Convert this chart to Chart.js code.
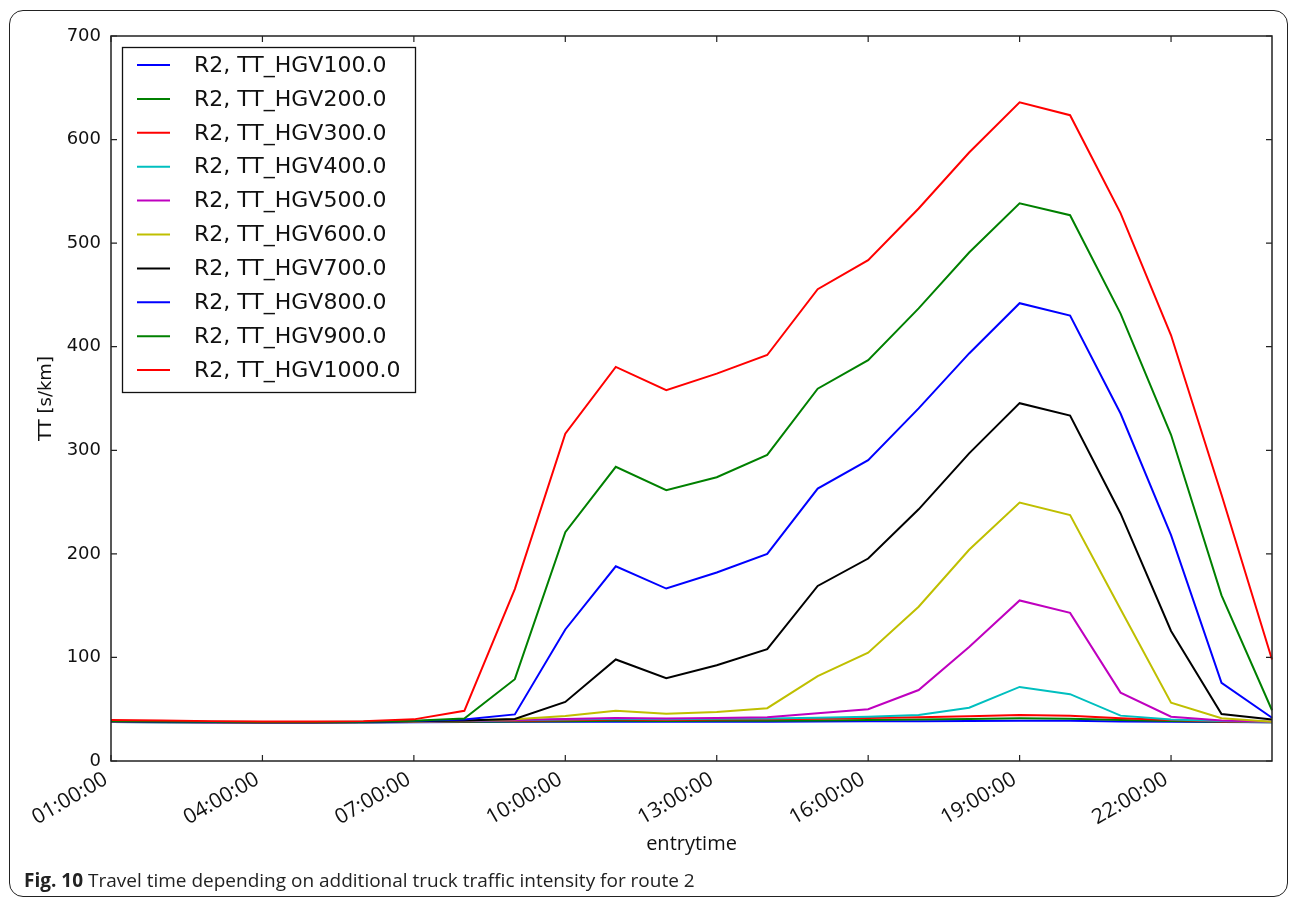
<!DOCTYPE html>
<html>
<head>
<meta charset="utf-8">
<script src="https://cdn.jsdelivr.net/npm/chart.js@4.4.0/dist/chart.umd.min.js"></script>
<style>
  html, body { margin: 0; padding: 0; background: #fff; }
  #wrap { position: relative; width: 1290px; height: 900px; overflow: hidden; }
  #frame { position: absolute; left: 9px; top: 10px; width: 1279px; height: 887px; box-sizing: border-box;
           border: 1.5px solid #222; border-radius: 14px; }
  #chart { position: absolute; left: 0; top: 0; }
  #caption { position: absolute; left: 24px; top: 867px; font-family: "Open Sans", sans-serif; font-size: 19px;
             color: #222; white-space: nowrap; }
</style>
</head>
<body>
<div id="wrap">
  <div id="frame"></div>
  <canvas id="chart" width="1290" height="900"></canvas>
  <div id="caption"><b>Fig. 10</b> Travel time depending on additional truck traffic intensity for route 2</div>
</div>
<script>
// entry times (hourly)
var hours = ['01:00:00', '02:00:00', '03:00:00', '04:00:00', '05:00:00', '06:00:00', '07:00:00', '08:00:00',
             '09:00:00', '10:00:00', '11:00:00', '12:00:00', '13:00:00', '14:00:00', '15:00:00', '16:00:00',
             '17:00:00', '18:00:00', '19:00:00', '20:00:00', '21:00:00', '22:00:00', '23:00:00', '00:00:00'];
var shownTimes = ['01:00:00', '04:00:00', '07:00:00', '10:00:00', '13:00:00', '16:00:00', '19:00:00', '22:00:00'];
var yTicks = [0, 100, 200, 300, 400, 500, 600, 700];

var seriesNames = ['R2, TT_HGV100.0', 'R2, TT_HGV200.0', 'R2, TT_HGV300.0', 'R2, TT_HGV400.0', 'R2, TT_HGV500.0',
                   'R2, TT_HGV600.0', 'R2, TT_HGV700.0', 'R2, TT_HGV800.0', 'R2, TT_HGV900.0', 'R2, TT_HGV1000.0'];
var seriesColors = ['#0000ff', '#008000', '#ff0000', '#00bfbf', '#bf00bf',
                    '#bfbf00', '#000000', '#0000ff', '#008000', '#ff0000'];

// travel time [s/km]
var hgv100  = [37.6, 37.4, 37.2, 37.1, 37.1, 37.2, 37.4, 37.6, 37.8, 37.9, 38.0, 37.9, 38.0, 38.0, 38.1, 38.3, 38.5, 38.7, 38.9, 38.8, 38.2, 37.9, 37.6, 37.4];
var hgv200  = [37.7, 37.5, 37.3, 37.2, 37.2, 37.3, 37.6, 37.9, 38.2, 38.5, 38.8, 38.6, 38.8, 38.9, 39.2, 39.6, 40.0, 40.6, 41.2, 40.9, 39.5, 38.6, 37.9, 37.5];
var hgv300  = [37.9, 37.6, 37.4, 37.3, 37.3, 37.4, 37.8, 38.3, 38.8, 39.4, 40.0, 39.6, 40.0, 40.3, 40.8, 41.5, 42.2, 43.3, 44.4, 43.8, 41.2, 39.5, 38.2, 37.6];
var hgv400  = [38.0, 37.7, 37.5, 37.4, 37.4, 37.5, 37.9, 38.6, 39.3, 40.0, 40.8, 40.3, 40.7, 41.0, 41.8, 42.8, 44.4, 51.5, 71.5, 64.5, 43.8, 40.0, 38.5, 37.7];
var hgv500  = [38.1, 37.8, 37.5, 37.4, 37.4, 37.6, 38.0, 38.8, 39.6, 40.6, 41.5, 41.0, 41.4, 42.2, 46.0, 50.0, 68.5, 110, 155, 143, 66.0, 42.8, 39.0, 37.8];
var hgv600  = [38.2, 37.9, 37.6, 37.5, 37.5, 37.6, 38.1, 39.2, 40.4, 43.4, 48.6, 45.7, 47.3, 51.0, 82.0, 104.5, 149, 204, 249.5, 237.5, 146.5, 56.3, 41.2, 38.0];
var hgv700  = [38.3, 38.0, 37.7, 37.5, 37.5, 37.7, 38.3, 39.0, 40.5, 57.0, 98.0, 80.0, 92.5, 108, 169, 195.5, 243, 297, 345.5, 333.5, 239, 125.5, 45.4, 40.0];
var hgv800  = [38.4, 38.0, 37.7, 37.5, 37.5, 37.7, 38.5, 40.0, 45.0, 127, 188, 166.5, 182, 200, 263, 290.5, 340.5, 393.5, 442, 430, 335.5, 218, 75.5, 41.8];
var hgv900  = [38.6, 38.1, 37.8, 37.6, 37.6, 37.8, 38.8, 41.0, 79.0, 221, 284, 261.5, 274, 295.5, 359.5, 387, 437, 491, 538.5, 527, 432, 315, 160, 49.0];
var hgv1000 = [39.6, 39.0, 38.5, 38.2, 38.2, 38.5, 40.2, 48.5, 166, 316, 380.5, 358, 374, 392, 455.5, 483.5, 533.5, 587.5, 636, 623.5, 529, 411, 257, 98.0];

var seriesValues = [hgv100, hgv200, hgv300, hgv400, hgv500, hgv600, hgv700, hgv800, hgv900, hgv1000];

// frame round the plot with inward ticks (matplotlib look)
var axesBox = {
  id: 'axesBox',
  afterDatasetsDraw: function (chart) {
    var ctx = chart.ctx, a = chart.chartArea, x = chart.scales.x, y = chart.scales.y;
    ctx.save();
    ctx.strokeStyle = '#222';
    ctx.lineWidth = 1.5;
    ctx.strokeRect(a.left, a.top, a.right - a.left, a.bottom - a.top);
    ctx.lineWidth = 1.2;
    ctx.beginPath();
    yTicks.forEach(function (v) {
      var p = y.getPixelForValue(v);
      ctx.moveTo(a.left, p); ctx.lineTo(a.left + 6, p);
      ctx.moveTo(a.right, p); ctx.lineTo(a.right - 6, p);
    });
    shownTimes.forEach(function (t) {
      var p = x.getPixelForValue(hours.indexOf(t));
      ctx.moveTo(p, a.bottom); ctx.lineTo(p, a.bottom - 6);
      ctx.moveTo(p, a.top); ctx.lineTo(p, a.top + 6);
    });
    ctx.stroke();
    ctx.restore();
  }
};

// boxed legend in the upper left corner
var boxLegend = {
  id: 'boxLegend',
  afterDraw: function (chart) {
    var ctx = chart.ctx, a = chart.chartArea;
    var x0 = a.left + 11, y0 = a.top + 11, w = 293, h = 345;
    ctx.save();
    ctx.fillStyle = '#fff';
    ctx.fillRect(x0, y0, w, h);
    ctx.strokeStyle = '#111';
    ctx.lineWidth = 1.3;
    ctx.strokeRect(x0 + 0.5, y0 + 0.5, w, h);
    ctx.font = '22px "DejaVu Sans"';
    ctx.textBaseline = 'middle';
    chart.data.datasets.forEach(function (ds, i) {
      var yy = y0 + 18 + i * 33.9;
      ctx.strokeStyle = ds.borderColor;
      ctx.lineWidth = 2;
      ctx.beginPath();
      ctx.moveTo(x0 + 15, yy); ctx.lineTo(x0 + 48, yy);
      ctx.stroke();
      ctx.fillStyle = '#111';
      ctx.fillText(ds.label, x0 + 72, yy + 1);
    });
    ctx.restore();
  }
};

var ctx = document.getElementById('chart').getContext('2d');
var myChart = new Chart(ctx, {
  type: 'line',
  data: {
    labels: hours,
    datasets: seriesNames.map(function (name, i) {
      return {
        label: name,
        data: seriesValues[i],
        borderColor: seriesColors[i],
        backgroundColor: seriesColors[i],
        borderWidth: 2,
        pointRadius: 0,
        tension: 0,
        fill: false,
        order: seriesNames.length - i
      };
    })
  },
  options: {
    responsive: false,
    animation: false,
    devicePixelRatio: 1,
    layout: { padding: { left: 0, top: 36, right: 18, bottom: 42 } },
    plugins: { legend: { display: false }, tooltip: { enabled: false } },
    scales: {
      x: {
        type: 'category',
        offset: false,
        grid: { display: false, drawTicks: false },
        border: { display: false },
        ticks: {
          autoSkip: false,
          minRotation: 30,
          maxRotation: 30,
          padding: 6,
          labelOffset: -5,
          color: '#111',
          font: { family: 'Open Sans', size: 21 },
          callback: function (v, i) { return shownTimes.indexOf(hours[i]) >= 0 ? hours[i] : null; }
        },
        title: { display: true, text: 'entrytime', color: '#111',
                 font: { family: 'Open Sans', size: 20 }, padding: { top: 0, bottom: 2 } },
        afterFit: function (s) { s.height = 97; }
      },
      y: {
        min: 0,
        max: 700,
        grid: { display: false, drawTicks: false },
        border: { display: false },
        ticks: { stepSize: 100, padding: 10, color: '#111', font: { family: 'DejaVu Sans', size: 18 } },
        title: { display: true, text: 'TT [s/km]', color: '#111',
                 font: { family: 'DejaVu Sans', size: 18 }, padding: { top: 36, bottom: 0 } },
        afterFit: function (s) { s.width = 111; }
      }
    }
  },
  plugins: [axesBox, boxLegend]
});
</script>
</body>
</html>
